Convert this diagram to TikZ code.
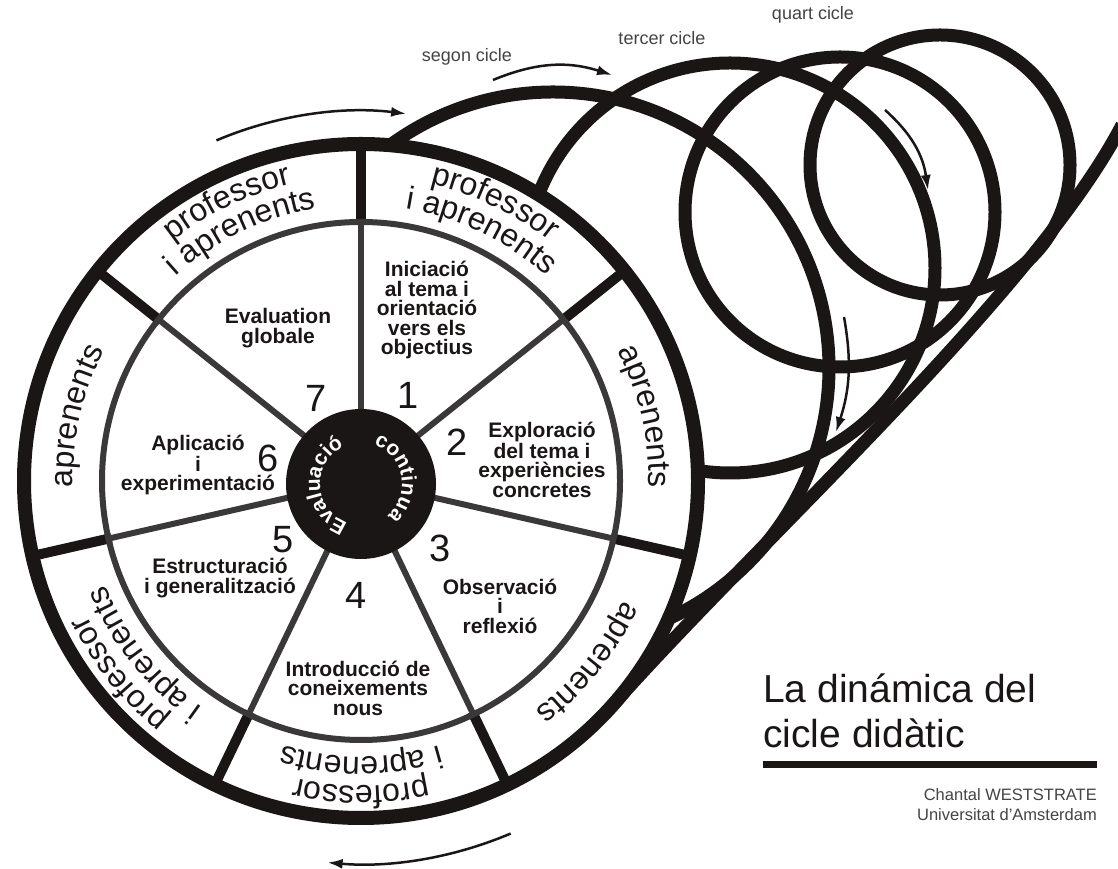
\documentclass[tikz,border=0pt]{standalone}
\usepackage{fontspec}
\setmainfont{Liberation Sans}
\usetikzlibrary{decorations.text,arrows.meta,calc}
\definecolor{ink}{HTML}{1A1616}
\definecolor{gline}{HTML}{3A3838}
\definecolor{soft}{HTML}{444444}
\begin{document}
\begin{tikzpicture}[x=1pt,y=1pt,
  coil/.style={draw=ink,line width=13pt},
  sepout/.style={draw=ink,line width=10pt},
  sepin/.style={draw=gline,line width=6pt},
  flow/.style={draw=ink,line width=2.5pt,-{Latex[length=15pt,width=10pt]}},
  seg/.style={font=\fontsize{21}{19.5}\selectfont\bfseries,align=center,text=ink,inner sep=0pt},
  num/.style={font=\fontsize{38}{38}\selectfont,text=ink,inner sep=0pt},
  cyc/.style={font=\fontsize{18}{18}\selectfont,text=soft,inner sep=0pt}]
\useasboundingbox (0,0) rectangle (1118,869);
\fill[white] (0,0) rectangle (1118,869);
\coordinate (C) at (361,388);
\coordinate (D) at (361,385);
% coil loops behind the wheel
\draw[coil] (553,501) circle[radius=276];
\draw[coil] (730,601) circle[radius=205];
\draw[coil] (840,657) circle[radius=155];
\draw[coil] (940,704) circle[radius=130];
\coordinate (tailA) at (611,162);
\coordinate (tailB) at (1122,744);
\draw[coil] (tailA) .. controls (760,330) and (1035,577) .. (tailB);
% wheel
\fill[white] (C) circle[radius=337];
\foreach \k in {0,...,6}{
  \pgfmathsetmacro{\a}{90-\k*360/7}
  \draw[sepout] ($(C)+(\a:256)$) -- ($(C)+(\a:340)$);
  \draw[sepin] ($(C)+(\a:70)$) -- ($(C)+(\a:259)$);
}
\draw[draw=gline,line width=6pt] (C) circle[radius=259];
\draw[draw=ink,line width=14pt] (C) circle[radius=337];
\fill[ink] (D) circle[radius=75];
% disc text
\path[decorate,decoration={text along path,text align=center,
  text={|\color{white}\bfseries\fontsize{21}{21}\selectfont|Evaluació}}]
  (D) ++(255:41) arc[start angle=255,end angle=111,radius=41];
\path[decorate,decoration={text along path,text align=center,
  text={|\color{white}\bfseries\fontsize{21}{21}\selectfont|continua}}]
  (D) ++(76:41) arc[start angle=76,end angle=-54,radius=41];
% band texts
\foreach \m in {64.29,-90,-141.43,115.71}{
  \path[decorate,decoration={text along path,text align=center,
    text={|\color{ink}\fontsize{32}{32}\selectfont|professor}}]
    (C) ++(\m+30:305) arc[start angle=\m+30,end angle=\m-30,radius=305];
  \path[decorate,decoration={text along path,text align=center,
    text={|\color{ink}\fontsize{32}{32}\selectfont|i aprenents}}]
    (C) ++(\m+32:276) arc[start angle=\m+32,end angle=\m-32,radius=276];
}
\foreach \m in {12.86,-38.57,167.14}{
  \path[decorate,decoration={text along path,text align=center,
    text={|\color{ink}\fontsize{32}{32}\selectfont|aprenents}}]
    (C) ++(\m+30:288) arc[start angle=\m+30,end angle=\m-30,radius=288];
}
% segment texts
\node[seg] (ini) at (427,559) {Iniciació\\al tema i\\orientació\\vers els\\objectius};
\node[seg] (exp) at (542,409) {Exploració\\del tema i\\experiències\\concretes};
\node[seg] (obs) at (500,263) {Observació\\i\\reflexió};
\node[seg] (intro) at (358,181) {Introducció de\\coneixements\\nous};
\node[seg] (estr) at (220,291) {Estructuració\\i generalització};
\node[seg] (apl) at (198,404) {Aplicació\\i\\experimentació};
\node[seg] (eva) at (278,541) {Evaluation\\globale};
\node[num] (n1) at (408,474) {1};
\node[num] (n2) at (457,427) {2};
\node[num] (n3) at (440,321) {3};
\node[num] (n4) at (356,274) {4};
\node[num] (n5) at (283,329) {5};
\node[num] (n6) at (268,411) {6};
\node[num] (n7) at (316,471) {7};
% arrows
\draw[flow] (C) ++(113:370) arc[start angle=113,end angle=83,radius=370];
\draw[flow] (C) ++(-67:383) arc[start angle=-67,end angle=-95,radius=383];
\coordinate (s2a) at (493,789);
\coordinate (s2b) at (612,794);
\draw[flow] (s2a) to[bend left=20] (s2b);
\coordinate (s4a) at (885,759);
\coordinate (s4b) at (928,679);
\draw[flow] (s4a) to[bend left=20] (s4b);
\coordinate (s3a) at (844,552);
\coordinate (s3b) at (836,437);
\draw[flow] (s3a) to[bend left=14] (s3b);
% cycle labels
\node[cyc] (c2) at (467,812) {segon cicle};
\node[cyc] (c3) at (662,831) {tercer cicle};
\node[cyc] (c4) at (813,854) {quart cicle};
% title
\node[anchor=base west,inner sep=0pt,font=\fontsize{39}{39}\selectfont,text=ink] (t1) at (763,166) {La dinámica del};
\node[anchor=base west,inner sep=0pt,font=\fontsize{39}{39}\selectfont,text=ink] (t2) at (763,121) {cicle didàtic};
\coordinate (barL) at (763,104);
\coordinate (barR) at (1097,104);
\draw[ink,line width=7pt] (barL) -- (barR);
\node[anchor=base east,inner sep=0pt,font=\fontsize{16.5}{16.5}\selectfont,text=soft] (au1) at (1097,68) {Chantal WESTSTRATE};
\node[anchor=base east,inner sep=0pt,font=\fontsize{16.5}{16.5}\selectfont,text=soft] (au2) at (1097,48) {Universitat d’Amsterdam};
\end{tikzpicture}
\end{document}
